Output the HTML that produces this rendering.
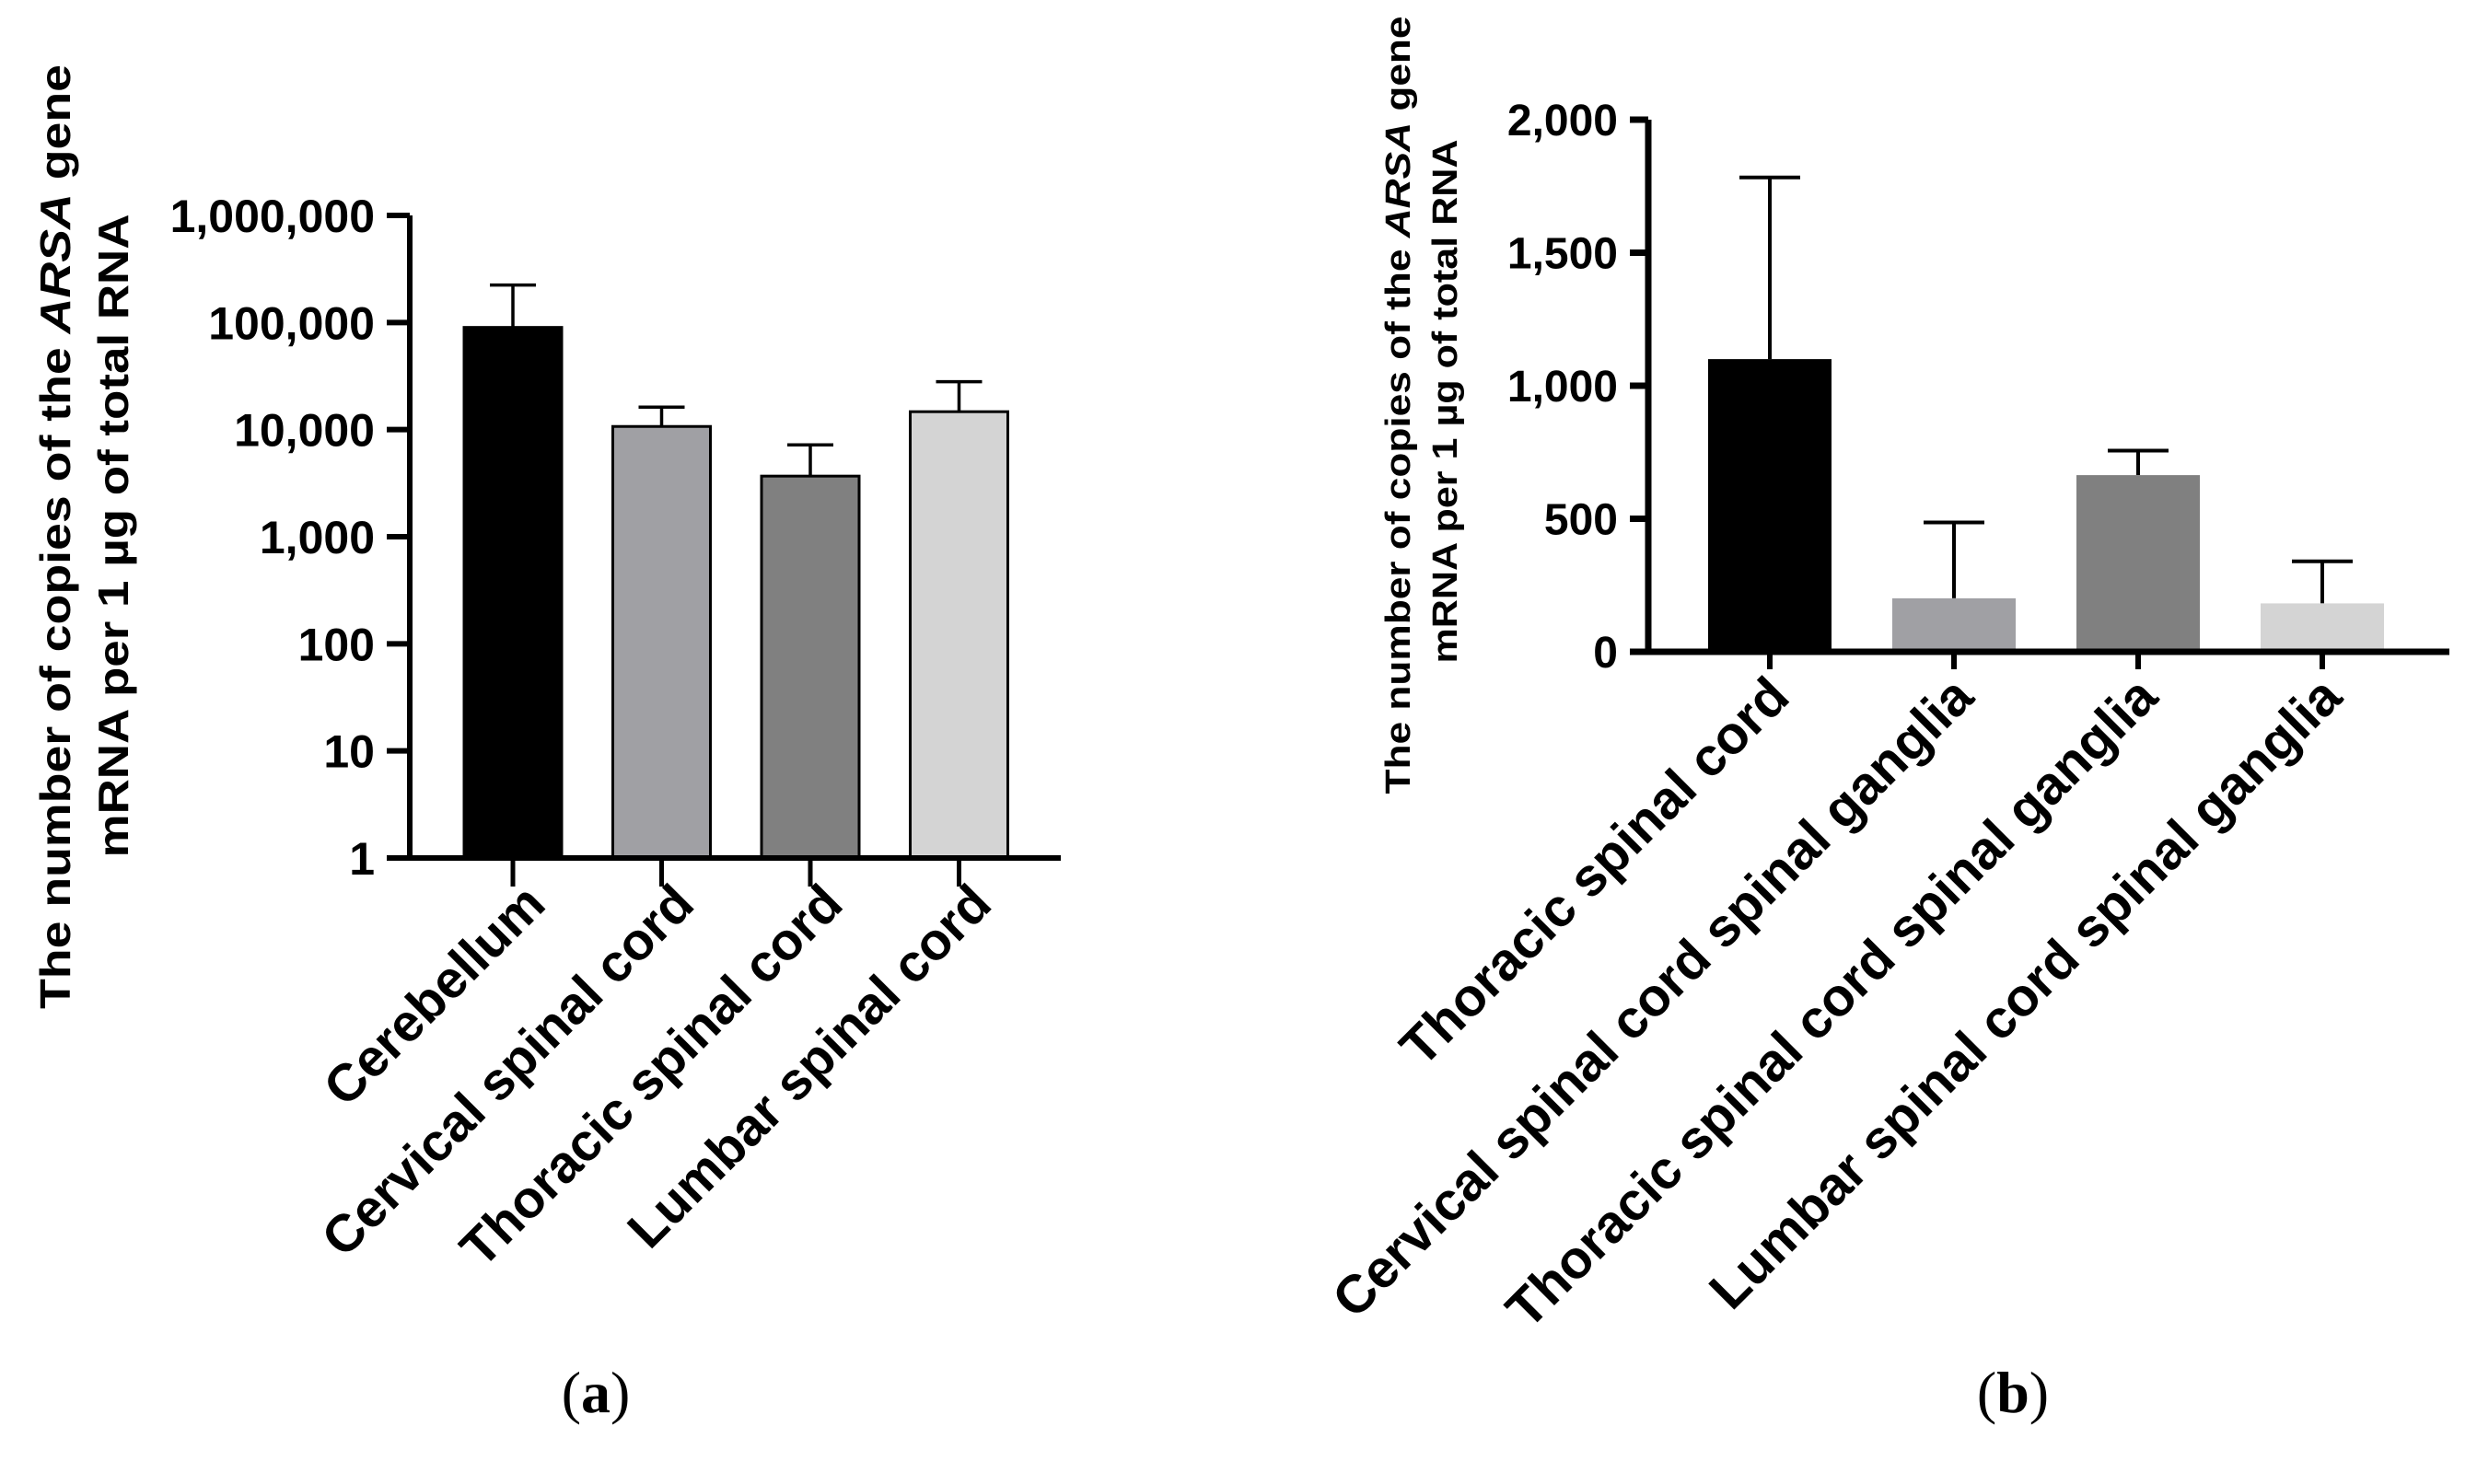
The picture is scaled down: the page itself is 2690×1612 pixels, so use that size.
<!DOCTYPE html>
<html><head><meta charset="utf-8"><style>
html,body{margin:0;padding:0;background:#fff}
svg{display:block}
text{font-family:"Liberation Sans",Arial,sans-serif;font-weight:bold;fill:#000}
</style></head><body>
<svg id="fig" width="2690" height="1612" viewBox="0 0 2690 1612" xmlns="http://www.w3.org/2000/svg">
<g id="chartA"></g>
<g id="chartB"></g>
<text transform="translate(76,583) rotate(-90)" text-anchor="middle" font-size="46" textLength="1026" lengthAdjust="spacingAndGlyphs">The number of copies of the <tspan font-style="italic">ARSA</tspan> gene</text>
<text transform="translate(139,582) rotate(-90)" text-anchor="middle" font-size="46" textLength="699" lengthAdjust="spacingAndGlyphs">mRNA per 1 µg of total RNA</text>
<text transform="translate(1531,440) rotate(-90)" text-anchor="middle" font-size="38" textLength="845" lengthAdjust="spacingAndGlyphs">The number of copies of the <tspan font-style="italic">ARSA</tspan> gene</text>
<text transform="translate(1582,436) rotate(-90)" text-anchor="middle" font-size="38" textLength="569" lengthAdjust="spacingAndGlyphs">mRNA per 1 µg of total RNA</text>
<text x="647" y="1534" text-anchor="middle" font-size="64" style="font-family:'Liberation Serif',serif;font-weight:normal">(<tspan font-weight="bold">a</tspan>)</text>
<text x="2186" y="1534" text-anchor="middle" font-size="64" style="font-family:'Liberation Serif',serif;font-weight:normal">(<tspan font-weight="bold">b</tspan>)</text>
</svg>
<script>
const catsA = ["Cerebellum","Cervical spinal cord","Thoracic spinal cord","Lumbar spinal cord"];
const meanA = [90000, 10700, 3680, 14700];
const errA = [224000, 16200, 7200, 28000];
const ticksA = [1,10,100,1000,10000,100000,1000000];
const tickLabelsA = ["1","10","100","1,000","10,000","100,000","1,000,000"];
const catsB = ["Thoracic spinal cord","Cervical spinal cord spinal ganglia","Thoracic spinal cord spinal ganglia","Lumbar spinal cord spinal ganglia"];
const meanB = [1100, 201, 664, 182];
const errB = [1783, 486, 756, 340];
const ticksB = [0,500,1000,1500,2000];
const tickLabelsB = ["0","500","1,000","1,500","2,000"];
const colors = ["#000000","#a0a0a4","#808080","#d4d4d4"];
const NS="http://www.w3.org/2000/svg";
function mk(parent,tag,attrs){const e=document.createElementNS(NS,tag);for(const k in attrs)e.setAttribute(k,attrs[k]);parent.appendChild(e);return e;}

// Chart A (log)
(function(){
const g=document.getElementById('chartA');
const ax=445, y1=932, yTop=234, dec=(y1-yTop)/6;
const yA=v=>y1-Math.log10(v)*dec;
const xA=i=>557+i*161.5;
const bw=106;
ticksA.forEach((t,i)=>{
 const l=mk(g,'line',{x1:420,x2:ax,y1:yA(t),y2:yA(t),stroke:'#000','stroke-width':6});
 
 
 const tx=mk(g,'text',{x:407,y:yA(t)+18,'text-anchor':'end','font-size':50});
 tx.textContent=tickLabelsA[i];
 
 
});
catsA.forEach((c,i)=>{
 const x=xA(i);
 const e=mk(g,'path',{d:`M${x} ${yA(meanA[i])} V${yA(errA[i])} M${x-25} ${yA(errA[i])} H${x+25}`,stroke:'#000','stroke-width':3.5,fill:'none'});
 
 
 const r=mk(g,'rect',{x:x-bw/2,y:yA(meanA[i]),width:bw,height:y1-yA(meanA[i]),fill:colors[i],stroke:'#000','stroke-width':3});
 
 
 const tk=mk(g,'line',{x1:x,x2:x,y1:y1,y2:963,stroke:'#000','stroke-width':5});
 
 
 const lb=mk(g,'text',{transform:`translate(${x+38},${985}) rotate(-45)`,'text-anchor':'end','font-size':57});
 lb.textContent=c;
 
 
});
const axes=mk(g,'path',{d:`M${ax} ${yTop} V${y1} M420 ${y1} H1152`,stroke:'#000','stroke-width':6,fill:'none'});


})();

// Chart B (linear)
(function(){
const g=document.getElementById('chartB');
const ax=1790, y0=708, yTop=130, per=(y0-yTop)/2000;
const yB=v=>y0-v*per;
const xB=i=>1922+i*200;
const bw=134;
ticksB.forEach((t,i)=>{
 const l=mk(g,'line',{x1:1770,x2:ax,y1:yB(t),y2:yB(t),stroke:'#000','stroke-width':7});
 
 
 const tx=mk(g,'text',{x:1757,y:yB(t)+17,'text-anchor':'end','font-size':48});
 tx.textContent=tickLabelsB[i];
 
 
});
catsB.forEach((c,i)=>{
 const x=xB(i);
 const e=mk(g,'path',{d:`M${x} ${yB(meanB[i])} V${yB(errB[i])} M${x-33} ${yB(errB[i])} H${x+33}`,stroke:'#000','stroke-width':4,fill:'none'});
 
 
 const r=mk(g,'rect',{x:x-bw/2,y:yB(meanB[i]),width:bw,height:y0-yB(meanB[i]),fill:colors[i]});
 
 
 const tk=mk(g,'line',{x1:x,x2:x,y1:y0,y2:727,stroke:'#000','stroke-width':6});
 
 
 const lb=mk(g,'text',{transform:`translate(${x+24},${760}) rotate(-45)`,'text-anchor':'end','font-size':58});
 lb.textContent=c;
 
 
});
const axes=mk(g,'path',{d:`M${ax} ${yTop} V${y0} M1770 ${y0} H2660`,stroke:'#000','stroke-width':7,fill:'none'});


})();
</script>
</body></html>
